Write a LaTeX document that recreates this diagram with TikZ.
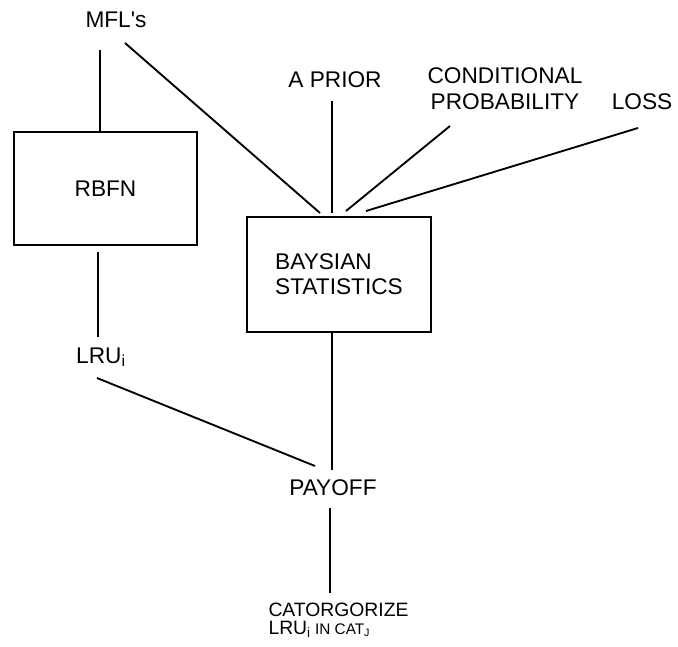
\documentclass[tikz,border=0pt]{standalone}
\usepackage{fontspec}
\setmainfont{Liberation Sans}

\tikzset{every picture/.style={line width=1.4pt}}
\tikzset{
  lbl/.style={inner sep=0.75pt, font=\fontsize{17}{19.5}\selectfont},
  blockbox/.style={draw, rectangle, inner sep=0.75pt, font=\fontsize{17}{18.75}\selectfont}
}

\begin{document}
\begin{tikzpicture}[x=0.75pt,y=0.75pt,yscale=-1,xscale=1]
\path[use as bounding box] (0,0) rectangle (678,646);

%Shape: Rectangle
\node[blockbox, minimum width=137.25pt, minimum height=84.75pt] (rbfn) at (105.5,188.5) {RBFN};
%Shape: Rectangle
\node[blockbox, minimum width=138pt, minimum height=86.25pt, align=left] (bay) at (339,274.5) {BAYSIAN\\STATISTICS};

% Text Node
\node[lbl] (mfl) at (116,20) {MFL\textquotesingle s};
% Text Node
\node[lbl] (apri) at (335,80) {A PRIOR};
% Text Node
\node[lbl, align=center] (cond) at (505,89) {CONDITIONAL\\PROBABILITY};
% Text Node
\node[lbl] (loss) at (642,102) {LOSS};
% Text Node
\node[lbl] (lru) at (101,357) {LRU\textsubscript{i}};
% Text Node
\node[lbl] (payoff) at (333,488) {PAYOFF};
% Text Node
\node[inner sep=0.75pt, align=left, font=\fontsize{14.5}{13.5}\selectfont] (cat) at (338.5,620)
  {CATORGORIZE\\{\fontsize{14.5}{13.5}\selectfont LRU\textsubscript{i}}{\fontsize{11.5}{13.5}\selectfont\ IN CAT\textsubscript{J}}};

% line ends
\coordinate (mflv) at (100,50);
\coordinate (mfld) at (125,43);
\coordinate (bayA) at (320,213);
\coordinate (priA) at (332,101);
\coordinate (bayB) at (332,213);
\coordinate (conA) at (450,126);
\coordinate (bayC) at (346,211);
\coordinate (lossA) at (638,128);
\coordinate (bayD) at (366,211);
\coordinate (rbfnB) at (98,252);
\coordinate (lruA) at (98,337);
\coordinate (lruB) at (97,378);
\coordinate (payA) at (315,466);
\coordinate (payB) at (332,470);
\coordinate (payC) at (330,508);
\coordinate (catA) at (330,593);

%Straight Lines
\draw (mflv) -- (mflv |- rbfn.north);
%Straight Lines
\draw (mfld) -- (bayA);
%Straight Lines
\draw (priA) -- (bayB);
%Straight Lines
\draw (conA) -- (bayC);
%Straight Lines
\draw (lossA) -- (bayD);
%Straight Lines
\draw (rbfnB) -- (lruA);
%Straight Lines
\draw (lruB) -- (payA);
%Straight Lines
\draw (payB |- bay.south) -- (payB);
%Straight Lines
\draw (payC) -- (catA);

\end{tikzpicture}
\end{document}
